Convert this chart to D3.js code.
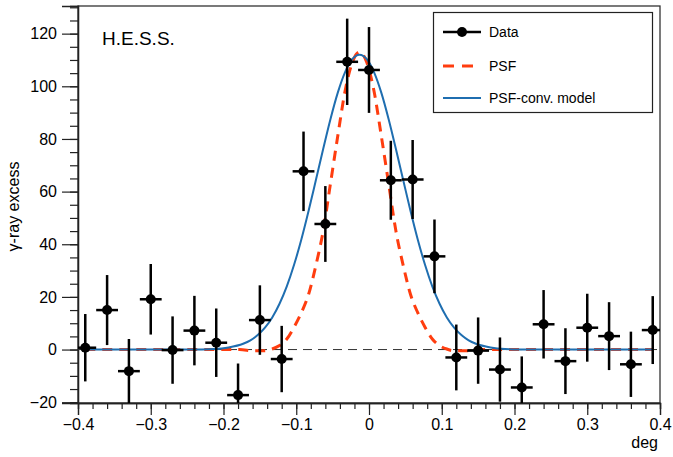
<!DOCTYPE html>
<html><head><meta charset="utf-8">
<script src="https://cdn.jsdelivr.net/npm/d3@7"></script>
<style>
body{margin:0;background:#fff}
svg{display:block}
text{font-family:"Liberation Sans",Arial,Helvetica,sans-serif;fill:#000}
</style>
</head><body>
<svg id="chart" width="673" height="457"></svg>
<script>
// ---- data ----
const binCenters = [-0.39,-0.36,-0.33,-0.30,-0.27,-0.24,-0.21,-0.18,-0.15,-0.12,-0.09,-0.06,-0.03,0.00,0.03,0.06,0.09,0.12,0.15,0.18,0.21,0.24,0.27,0.30,0.33,0.36,0.39];
const counts = [0.7,15.0,-8.2,19.1,-0.2,7.2,2.6,-17.3,11.2,-3.6,67.7,47.7,109.3,106.2,64.3,64.6,35.4,-3.0,-0.4,-7.6,-14.4,9.6,-4.4,8.3,5.1,-5.6,7.4];
const errors = [12.8,13.3,12.2,13.4,12.8,13.2,13.0,12.0,13.2,12.6,15.1,14.4,16.4,16.3,15.0,15.0,14.0,12.5,12.6,12.2,11.8,13.0,12.5,12.9,12.9,12.4,12.9];
const binHalfWidth = 0.015;

const psfX = [-0.39,-0.2,-0.178,-0.158,-0.143,-0.133,-0.123,-0.113,-0.103,-0.093,-0.083,-0.073,-0.063,-0.053,-0.043,-0.033,-0.023,-0.013,-0.003,0.007,0.017,0.027,0.037,0.047,0.057,0.067,0.077,0.087,0.097,0.107,0.117,0.132,0.152,0.172,0.2,0.39];
const psfY = [0,0,0,-0.5,-0.5,0.2,1.5,4,8.5,14,21,32,45,63,81,98,109,113,109,98,81,63,45,32,21,14,8.5,4,1.5,0.2,-0.5,-0.5,0,0,0,0];

const modelX = [-0.39,-0.3,-0.25,-0.233,-0.213,-0.193,-0.173,-0.163,-0.153,-0.143,-0.133,-0.123,-0.113,-0.103,-0.093,-0.083,-0.073,-0.063,-0.053,-0.043,-0.033,-0.023,-0.013,-0.003,0.007,0.017,0.027,0.037,0.047,0.057,0.067,0.077,0.087,0.097,0.107,0.117,0.127,0.137,0.147,0.167,0.187,0.207,0.25,0.3,0.39];
const modelY = [0,0,0,0.05,0.2,0.8,2.2,3.5,5.5,8.3,12.2,17.4,24.0,32.2,41.8,52.7,64.4,76.2,87.5,97.5,105.3,110.3,112,110.3,105.3,97.5,87.5,76.2,64.4,52.7,41.8,32.2,24.0,17.4,12.2,8.3,5.5,3.5,2.2,0.8,0.2,0.05,0,0,0];

const xMajor = [-0.4,-0.3,-0.2,-0.1,0,0.1,0.2,0.3,0.4];
const xMinor = d3.range(-20,21).map(i=>i*0.02);
const yMajor = [-20,0,20,40,60,80,100,120];
const yMinor = d3.range(-4,27).map(i=>i*5);

const legendLabels = ["Data","PSF","PSF-conv. model"];
const xTitle = "deg";
const yTitle = "γ-ray excess";
const experiment = "H.E.S.S.";

// ---- layout ----
const L=78,R=660,T=6,B=403;
const blue="#1f6eb0", red="#ff3d0f";
const svg=d3.select("#chart");
const x=d3.scaleLinear().domain([-0.4,0.4]).range([L,R]);
const y=d3.scaleLinear().domain([-20.3,130.5]).range([B,T]);

svg.append("defs").append("clipPath").attr("id","clip")
  .append("rect").attr("x",L).attr("y",T).attr("width",R-L).attr("height",B-T);

// frame
svg.append("rect").attr("x",L).attr("y",T).attr("width",R-L).attr("height",B-T)
  .attr("fill","none").attr("stroke","#333").attr("stroke-width",1.3);

// axes
const fmtX=d=>Math.abs(d)<1e-9?"0":d3.format(".1f")(d);
const gxMin=svg.append("g").attr("transform",`translate(0,${B})`)
  .call(d3.axisBottom(x).tickValues(xMinor).tickSize(6).tickFormat(""));
const gx=svg.append("g").attr("transform",`translate(0,${B})`)
  .call(d3.axisBottom(x).tickValues(xMajor).tickSize(12).tickPadding(4).tickFormat(fmtX));
const gyMin=svg.append("g").attr("transform",`translate(${L},0)`)
  .call(d3.axisLeft(y).tickValues(yMinor).tickSize(8).tickFormat(""));
const gy=svg.append("g").attr("transform",`translate(${L},0)`)
  .call(d3.axisLeft(y).tickValues(yMajor).tickSize(16).tickPadding(5));
[gxMin,gx,gyMin,gy].forEach(g=>{
  g.select(".domain").attr("stroke","#222").attr("stroke-width",1.3);
  g.selectAll(".tick line").attr("stroke","#222").attr("stroke-width",1.2);
  g.selectAll("text").style("font-size","16px").attr("fill","#000")
    .style("font-family",'"Liberation Sans",Arial,sans-serif');
});

// titles
svg.append("text").attr("x",R-2).attr("y",448).attr("text-anchor","end")
  .style("font-size","16px").text(xTitle);
svg.append("text").attr("transform",`translate(19,${(T+B)/2+2}) rotate(-90)`)
  .attr("text-anchor","middle").style("font-size","16px").text(yTitle);
svg.append("text").attr("x",102).attr("y",45).style("font-size","19px").text(experiment);

const plot=svg.append("g").attr("clip-path","url(#clip)");

// zero line
plot.append("line").attr("x1",L).attr("x2",R).attr("y1",y(0)).attr("y2",y(0))
  .attr("stroke","#333").attr("stroke-width",1).attr("stroke-dasharray","9,6");

const line=d3.line().x(d=>x(d[0])).y(d=>y(d[1])).curve(d3.curveMonotoneX);
// PSF
plot.append("path").datum(psfX.map((v,i)=>[v,psfY[i]])).attr("d",line)
  .attr("fill","none").attr("stroke",red).attr("stroke-width",3).attr("stroke-dasharray","10,7");
// model
plot.append("path").datum(modelX.map((v,i)=>[v,modelY[i]])).attr("d",line)
  .attr("fill","none").attr("stroke",blue).attr("stroke-width",2);

// data
const pts=binCenters.map((c,i)=>({c,v:counts[i],e:errors[i]}));
const gp=plot.append("g");
gp.selectAll(".ev").data(pts).join("line")
  .attr("x1",d=>x(d.c)).attr("x2",d=>x(d.c)).attr("y1",d=>y(d.v-d.e)).attr("y2",d=>y(d.v+d.e))
  .attr("stroke","#000").attr("stroke-width",2.5);
gp.selectAll(".eh").data(pts).join("line")
  .attr("x1",d=>x(d.c-binHalfWidth)).attr("x2",d=>x(d.c+binHalfWidth)).attr("y1",d=>y(d.v)).attr("y2",d=>y(d.v))
  .attr("stroke","#000").attr("stroke-width",2.5);
gp.selectAll("circle").data(pts).join("circle")
  .attr("cx",d=>x(d.c)).attr("cy",d=>y(d.v)).attr("r",5).attr("fill","#000");

// legend
const lg=svg.append("g");
lg.append("rect").attr("x",433.5).attr("y",12.5).attr("width",219).attr("height",100)
  .attr("fill","#fff").attr("stroke","#222").attr("stroke-width",1.2);
const ly=[32,66,98];
lg.append("line").attr("x1",443).attr("x2",481).attr("y1",ly[0]).attr("y2",ly[0]).attr("stroke","#000").attr("stroke-width",2.5);
lg.append("circle").attr("cx",462).attr("cy",ly[0]).attr("r",5).attr("fill","#000");
lg.append("line").attr("x1",443).attr("x2",481).attr("y1",ly[1]).attr("y2",ly[1]).attr("stroke",red).attr("stroke-width",3).attr("stroke-dasharray","11,8");
lg.append("line").attr("x1",443).attr("x2",481).attr("y1",ly[2]).attr("y2",ly[2]).attr("stroke",blue).attr("stroke-width",2);
legendLabels.forEach((t,i)=>{
  lg.append("text").attr("x",489).attr("y",ly[i]+5).style("font-size","14px").text(t);
});
</script>
</body></html>
